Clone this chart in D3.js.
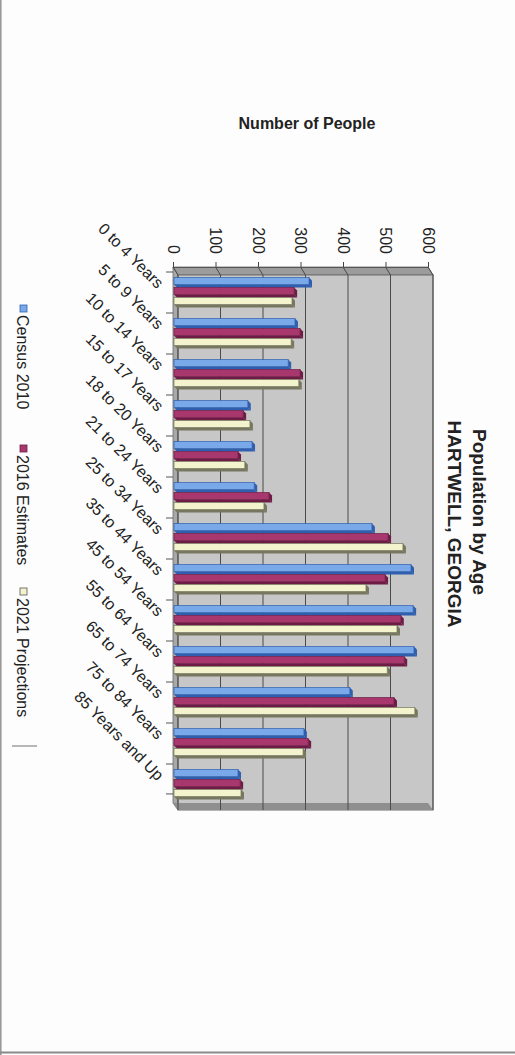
<!DOCTYPE html>
<html><head><meta charset="utf-8">
<script src="https://cdn.jsdelivr.net/npm/d3@7"></script>
<style>
html,body{margin:0;padding:0;background:#fdfdfd;}
svg{display:block;font-family:"Liberation Sans",Arial,sans-serif;}
</style></head>
<body>
<svg id="c" width="515" height="1055"></svg>
<script>
const categories = ["0 to 4 Years","5 to 9 Years","10 to 14 Years","15 to 17 Years","18 to 20 Years","21 to 24 Years","25 to 34 Years","35 to 44 Years","45 to 54 Years","55 to 64 Years","65 to 74 Years","75 to 84 Years","85 Years and Up"];
const seriesNames = ["Census 2010","2016 Estimates","2021 Projections"];
const census2010 = [320,287,271,176,186,191,468,560,565,567,416,308,153];
const estimates2016 = [285,299,299,165,153,226,506,499,536,544,520,318,158];
const projections2021 = [280,278,296,181,169,214,541,454,527,504,569,306,160];
const valueTicks = [0,100,200,300,400,500,600];
const titleLines = ["Population by Age","HARTWELL, GEORGIA"];
const axisTitle = "Number of People";

const seriesValues = [census2010, estimates2016, projections2021];
const faceColors = ["#7aa9ea","#a8376e","#f3f3cd"];
const edgeColors = ["#2f5fae","#6e1c45","#77775f"];

const svg = d3.select("#c");
// page borders
svg.append("line").attr("x1",0.8).attr("x2",0.8).attr("y1",0).attr("y2",1055).attr("stroke","#9a9a9a").attr("stroke-width",1.6);
svg.append("line").attr("x1",0).attr("x2",515).attr("y1",1052.5).attr("y2",1052.5).attr("stroke","#8a8a8a").attr("stroke-width",2);

// scales (chart drawn rotated 90deg clockwise)
const xF = d3.scaleLinear().domain([0,600]).range([173,428]); // front plane
const xB = d3.scaleLinear().domain([0,600]).range([178,433]); // back wall
const yTop = 267, yBackTop = 275, yBottom = 803, yBackBottom = 810;
const y0 = d3.scaleBand().domain(categories).range([272,805]).paddingInner(0.27).paddingOuter(0.135);
const y1 = d3.scaleBand().domain(seriesNames).range([0,y0.bandwidth()]);

// side wall (top strip)
svg.append("polygon")
  .attr("points",[[xF(0),yTop],[xF(600),yTop],[xB(600),yBackTop],[xB(0),yBackTop]].join(" "))
  .attr("fill","#9c9c9c").attr("stroke","#6a6a6a").attr("stroke-width",0.8);
// floor (left strip)
svg.append("polygon")
  .attr("points",[[xF(0),yTop],[xB(0),yBackTop],[xB(0),yBackBottom],[xF(0),yBottom]].join(" "))
  .attr("fill","#a9a9a9").attr("stroke","#6a6a6a").attr("stroke-width",0.8);
// back wall
svg.append("rect").attr("x",xB(0)).attr("y",yBackTop).attr("width",xB(600)-xB(0)).attr("height",yBackBottom-yBackTop)
  .attr("fill","#c7c7c7").attr("stroke","#6e6e6e").attr("stroke-width",1);
// bottom edge strip
svg.append("polygon")
  .attr("points",[[xF(0),yBottom],[xB(0),yBackBottom],[xB(600),yBackBottom],[xF(600),yBottom]].join(" "))
  .attr("fill","#8f8f8f");

// gridlines
const grid = svg.append("g");
valueTicks.forEach(v=>{
  grid.append("line").attr("x1",xB(v)).attr("x2",xB(v)).attr("y1",yBackTop).attr("y2",yBackBottom)
    .attr("stroke","#4a4a4a").attr("stroke-width",1);
  grid.append("line").attr("x1",xF(v)).attr("x2",xB(v)).attr("y1",yTop).attr("y2",yBackTop)
    .attr("stroke","#4a4a4a").attr("stroke-width",1);
});

// value axis (top)
const ax = svg.append("g").attr("transform",`translate(0,${yTop})`)
  .call(d3.axisTop(xF).tickValues(valueTicks).tickSize(5).tickFormat(d3.format("d")));
ax.select(".domain").attr("stroke","#555");
ax.selectAll(".tick line").attr("stroke","#444");
ax.selectAll(".tick text")
  .attr("x",0).attr("y",0).attr("dy","0.35em")
  .attr("text-anchor","end")
  .attr("transform","translate(0,-13) rotate(90)")
  .attr("font-size",16).attr("fill","#222")
  .attr("font-family","Liberation Sans, Arial, sans-serif");

// category ticks at band boundaries
const step = y0.step();
const catAxis = svg.append("g");
categories.concat(["__end"]).forEach((c,i)=>{
  const yy = (i<categories.length ? y0(c) : y0(categories[categories.length-1])+y0.bandwidth()) - step*y0.paddingInner()/2;
  catAxis.append("line").attr("x1",xF(0)-7).attr("x2",xF(0)).attr("y1",yy).attr("y2",yy)
    .attr("stroke","#555").attr("stroke-width",1);
});

// bars
const bars = svg.append("g");
const depth = 3;
categories.forEach((c,ci)=>{
  seriesNames.forEach((s,si)=>{
    const v = seriesValues[si][ci];
    const yb = y0(c)+y1(s);
    const h = y1.bandwidth();
    const xs = xF(0)+1, xe = xF(v);
    const g = bars.append("g");
    // bottom side
    g.append("polygon").attr("points",[[xs,yb+h-depth],[xe,yb+h-depth],[xe+depth,yb+h],[xs+depth,yb+h]].join(" "))
      .attr("fill",edgeColors[si]);
    // end cap
    g.append("polygon").attr("points",[[xe,yb],[xe+depth,yb+depth],[xe+depth,yb+h],[xe,yb+h-depth]].join(" "))
      .attr("fill",edgeColors[si]);
    // front face
    g.append("rect").attr("x",xs).attr("y",yb).attr("width",xe-xs).attr("height",h-depth)
      .attr("fill",faceColors[si]).attr("stroke",edgeColors[si]).attr("stroke-width",0.7);
  });
});

// category labels (rotated 45)
svg.append("g").selectAll("text").data(categories).join("text")
  .attr("transform",d=>`translate(157,${y0(d)+y0.bandwidth()/2-3}) rotate(45)`)
  .attr("text-anchor","end")
  .attr("font-size",16).attr("fill","#222")
  .text(d=>d);

// title (rotated 90)
svg.append("text").attr("transform","translate(473,512) rotate(90)")
  .attr("text-anchor","middle").attr("font-size",19).attr("font-weight","bold").attr("fill","#222")
  .text(titleLines[0]);
svg.append("text").attr("transform","translate(448,524) rotate(90)")
  .attr("text-anchor","middle").attr("font-size",19).attr("font-weight","bold").attr("fill","#222")
  .text(titleLines[1]);

// axis title
svg.append("text").attr("x",307).attr("y",129).attr("text-anchor","middle")
  .attr("font-size",16).attr("font-weight","bold").attr("fill","#222").text(axisTitle);

// legend (rotated 90)
const legendStarts = [305,445,588];
const lg = svg.append("g");
seriesNames.forEach((s,i)=>{
  lg.append("rect").attr("x",20).attr("y",legendStarts[i]).attr("width",7).attr("height",7)
    .attr("fill",faceColors[i]).attr("stroke",i===2?"#555":edgeColors[i]).attr("stroke-width",0.8);
  lg.append("text").attr("transform",`translate(17,${legendStarts[i]+10}) rotate(90)`)
    .attr("font-size",16).attr("fill","#222").text(s);
});
lg.append("line").attr("x1",12).attr("x2",37).attr("y1",746).attr("y2",746).attr("stroke","#888").attr("stroke-width",1.2);
</script>
</body></html>
